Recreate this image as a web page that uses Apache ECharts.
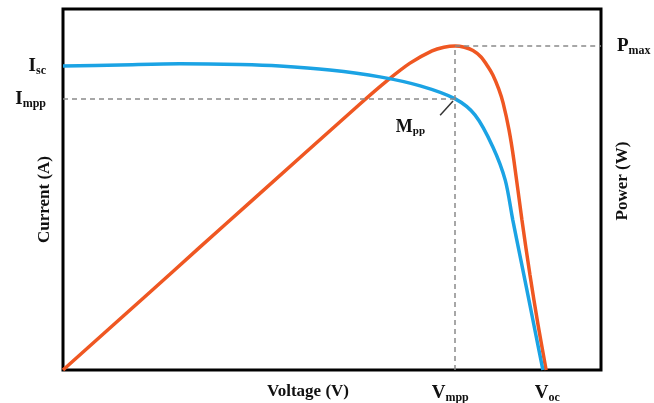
<!DOCTYPE html>
<html><head><meta charset="utf-8">
<script src="https://cdn.jsdelivr.net/npm/echarts@6/dist/echarts.min.js"></script>
<style>html,body{margin:0;padding:0;background:#fff}#c{width:654px;height:403px}</style>
</head><body><div id="c"></div>
<script>
// Current (I-V) curve: [voltage, current] in relative units (0-100)
const currentCurve = [[0,84.2],[10.6,84.5],[21.7,84.8],[32.9,84.6],[40.3,84.2],[49.6,83.1],[58.9,81.2],[66.4,78.7],[72.9,75.1],[76.6,70.6],[79.9,61.8],[82.2,52.6],[83.6,41.6],[85.1,30.5],[86.6,19.4],[87.9,9.7],[89.2,0]];
// Power (P-V) curve: [voltage, power]
const powerCurve = [[0,0],[16.2,21.6],[25.5,34.1],[34.8,46.5],[55.2,73.7],[60.2,80.1],[64.5,85.0],[68.6,88.4],[70.8,89.4],[72.9,89.75],[74.6,89.4],[76.2,88.5],[77.7,86.7],[79.0,84.0],[79.9,81.7],[81.0,77.8],[81.8,74.0],[82.9,66.5],[83.8,58.2],[85.3,41.6],[86.8,26.3],[88.3,12.5],[89.8,0]];
// Key points
const Isc = 84.2, Impp = 75.1, Pmax = 89.75, Vmpp = 72.9, Voc = 90;
const mppPointer = [[70.1,70.6],[72.5,74.5]];
const yLeftTicks = [Isc, Impp];
const yLeftLabels = ['{b|I}{s|sc}', '{b|I}{s|mpp}'];
const yRightTicks = [Pmax];
const yRightLabels = ['{b|P}{s|max}'];
const xTicks = [Vmpp, Voc];
const xLabels = ['{b|V}{s|mpp}{g|}', '{b|V}{s|oc}'];

const FONT = 'Liberation Serif';
const rich = {
  b: {fontFamily: FONT, fontWeight: 'bold', fontSize: 19, color: '#111'},
  s: {fontFamily: FONT, fontWeight: 'bold', fontSize: 12, color: '#111', padding: [10,0,0,0]},
  g: {width: 10}
};
const richSmall = {
  b: {fontFamily: FONT, fontWeight: 'bold', fontSize: 18, color: '#111'},
  s: {fontFamily: FONT, fontWeight: 'bold', fontSize: 11, color: '#111', padding: [9,0,0,0]}
};
function pick(ticks, labels) {
  return function (v) {
    let best = 0, d = Infinity;
    ticks.forEach((t, i) => { if (Math.abs(t - v) < d) { d = Math.abs(t - v); best = i; } });
    return labels[best];
  };
}
const dashStyle = {color: '#8a8a8a', width: 1.5, type: [5,4]};
const nameStyle = {fontFamily: FONT, fontWeight: 'bold', fontSize: 17, color: '#111'};

const chart = echarts.init(document.getElementById('c'), null, {renderer: 'canvas'});
chart.setOption({
  animation: false,
  backgroundColor: '#fff',
  grid: {left: 63, top: 9, right: 53, bottom: 33, containLabel: false, outerBoundsMode: 'none',
         show: true, borderColor: '#000', borderWidth: 3, backgroundColor: 'transparent'},
  xAxis: {
    type: 'value', min: 0, max: 100,
    name: 'Voltage (V)', nameLocation: 'middle', nameGap: 13, nameMoveOverlap: false,
    nameTextStyle: Object.assign({padding: [0, 48, 0, 0]}, nameStyle),
    axisLine: {show: false}, axisTick: {show: false}, splitLine: {show: false},
    axisLabel: {customValues: xTicks, formatter: pick(xTicks, xLabels), rich: rich, margin: 12}
  },
  yAxis: [{
    type: 'value', min: 0, max: 100, position: 'left',
    name: 'Current (A)', nameLocation: 'middle', nameGap: 10, nameRotate: 90, nameMoveOverlap: false,
    nameTextStyle: Object.assign({padding: [0, 20, 0, 0]}, nameStyle),
    axisLine: {show: false}, axisTick: {show: false}, splitLine: {show: false},
    axisLabel: {customValues: yLeftTicks, formatter: pick(yLeftTicks, yLeftLabels), rich: rich, margin: 17}
  }, {
    type: 'value', min: 0, max: 100, position: 'right',
    name: 'Power (W)', nameLocation: 'middle', nameGap: 13, nameRotate: 90, nameMoveOverlap: false,
    nameTextStyle: Object.assign({padding: [0, 0, 0, 17]}, nameStyle),
    axisLine: {show: false}, axisTick: {show: false}, splitLine: {show: false},
    axisLabel: {customValues: yRightTicks, formatter: pick(yRightTicks, yRightLabels), rich: rich, margin: 16}
  }],
  series: [{
    type: 'line', name: 'Current', data: currentCurve, yAxisIndex: 0,
    smooth: 0.3, showSymbol: false, z: 3,
    lineStyle: {color: '#1ba3e4', width: 3.5},
    markLine: {
      silent: true, symbol: 'none', animation: false,
      label: {show: false},
      data: [
        [{coord: [0, Impp], lineStyle: dashStyle}, {coord: [Vmpp, Impp]}],
        [{coord: [Vmpp, 0], lineStyle: dashStyle}, {coord: [Vmpp, Pmax]}],
        [{coord: [Vmpp, Pmax], lineStyle: dashStyle}, {coord: [100, Pmax]}],
        [{coord: mppPointer[0], lineStyle: {color: '#333', width: 1.5, type: 'solid'},
          label: {show: true, position: 'start', formatter: '{b|M}{s|pp}', rich: richSmall, distance: 4, offset: [-27, 9]}},
         {coord: mppPointer[1]}]
      ]
    }
  }, {
    type: 'line', name: 'Power', data: powerCurve, yAxisIndex: 1,
    smooth: 0.3, showSymbol: false, z: 2,
    lineStyle: {color: '#ef5722', width: 3.5}
  }]
});
</script>
</body></html>
